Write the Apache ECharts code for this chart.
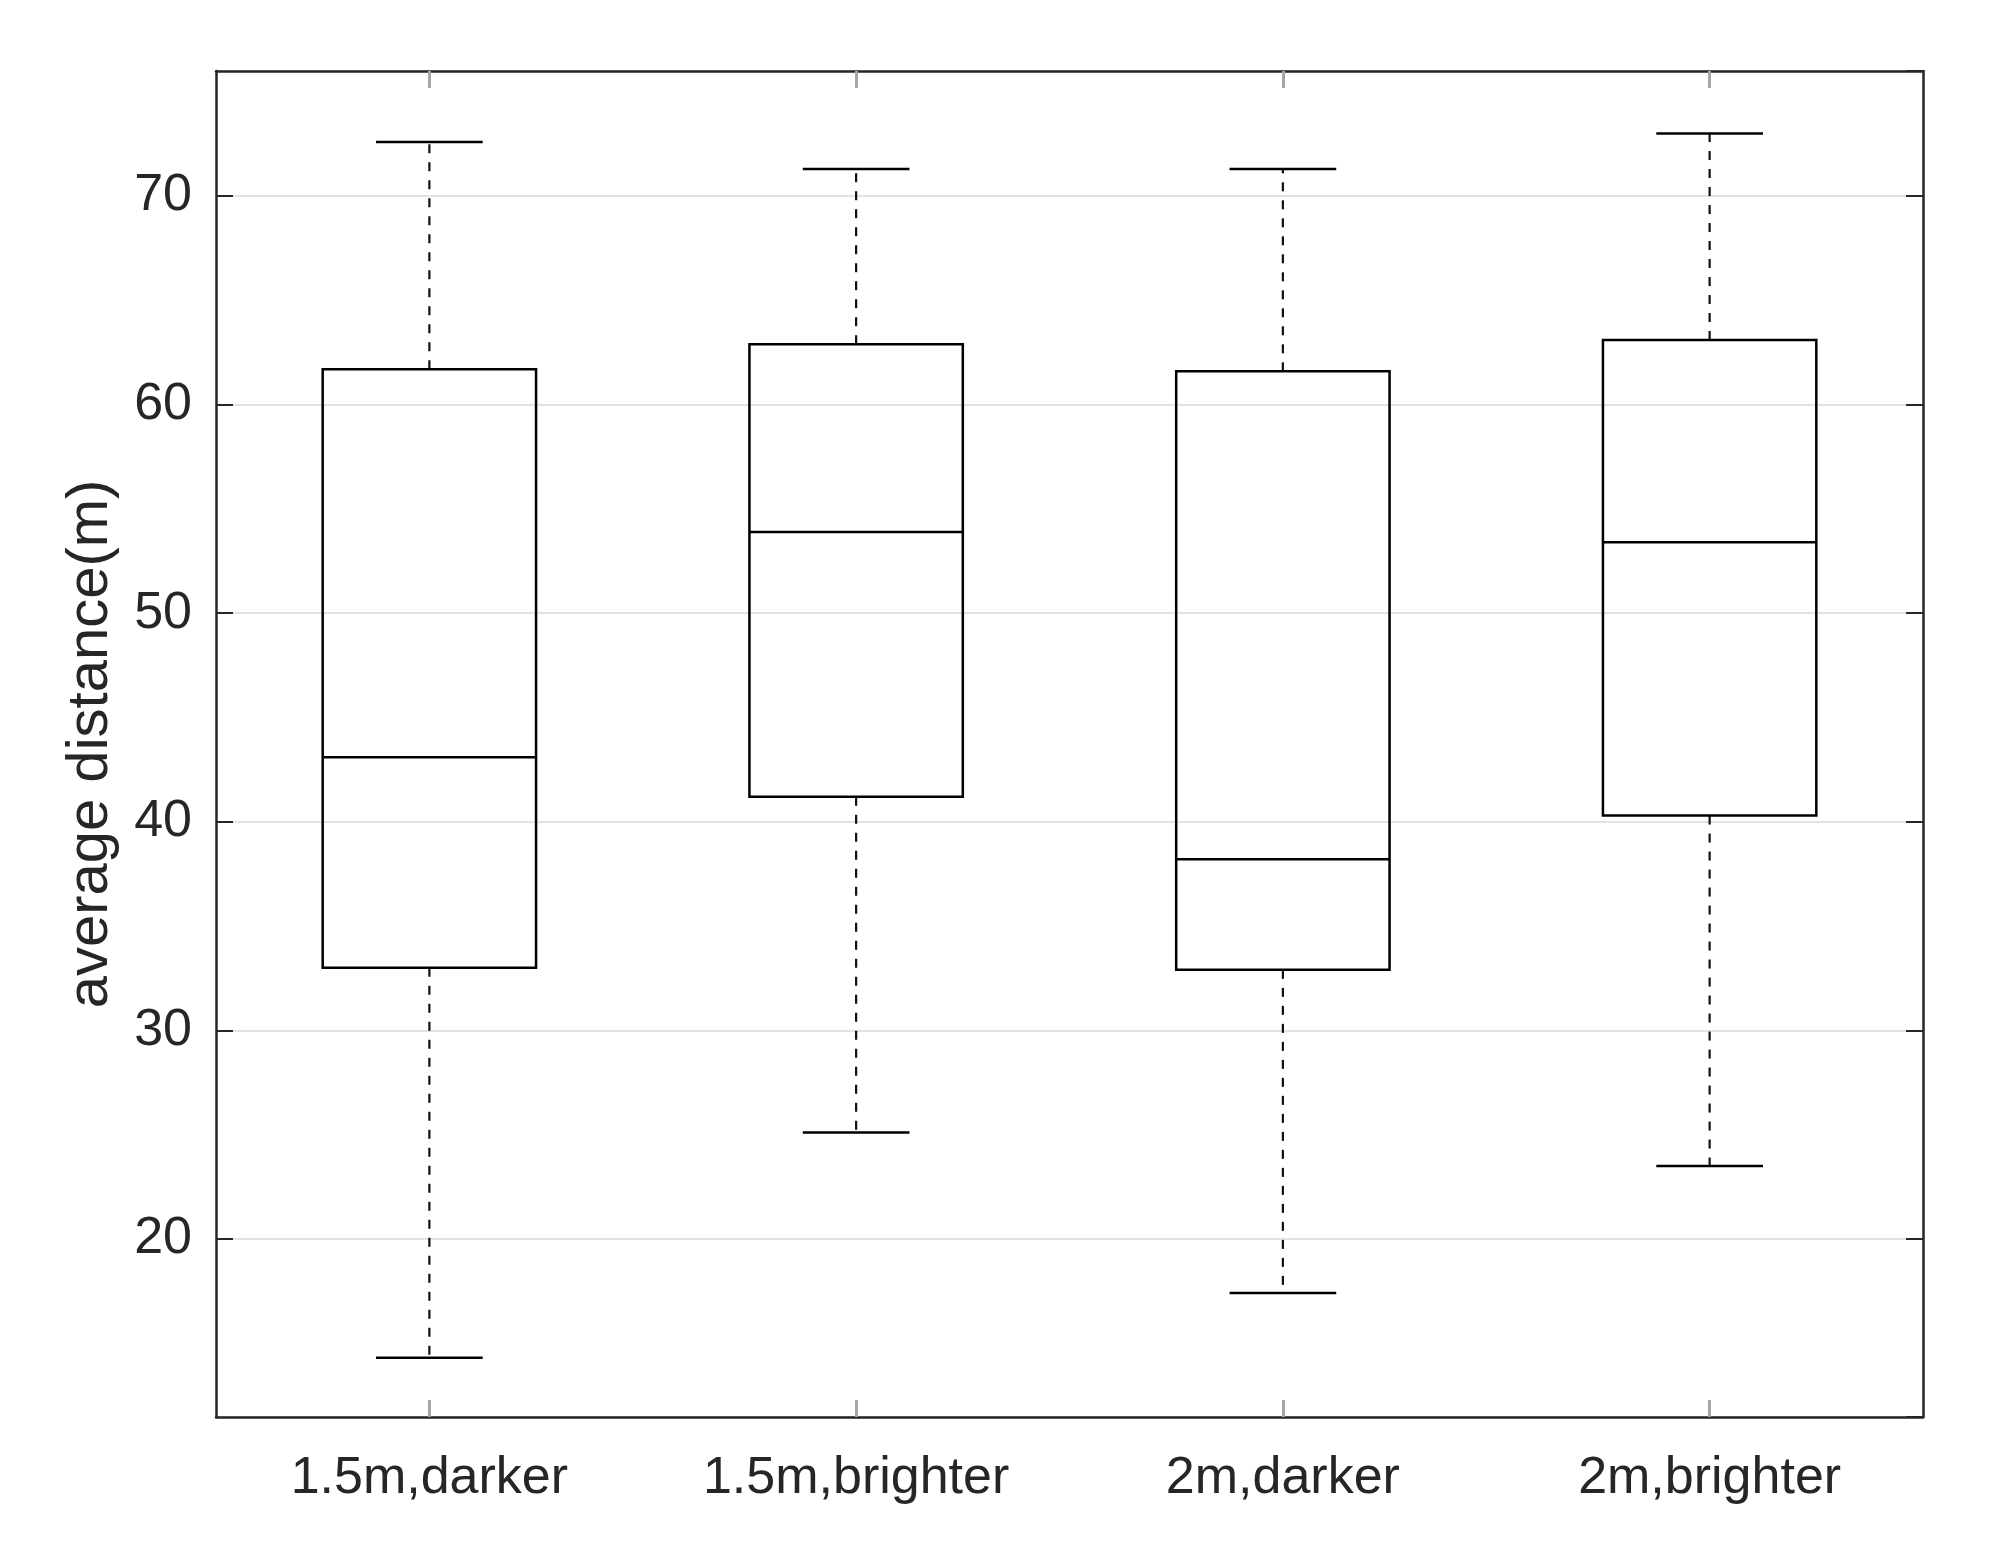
<!DOCTYPE html>
<html>
<head>
<meta charset="utf-8">
<script src="https://cdn.jsdelivr.net/npm/echarts@6/dist/echarts.min.js"></script>
<style>
  html, body { margin: 0; padding: 0; background: #fff; }
  #chart { width: 1989px; height: 1555px; }
</style>
</head>
<body>
<div id="chart"></div>
<script>
const categories = ['1.5m,darker', '1.5m,brighter', '2m,darker', '2m,brighter']
const whiskerLow = [14.3, 25.1, 17.4, 23.5]
const q1 = [33.0, 41.2, 32.9, 40.3]
const median = [43.1, 53.9, 38.2, 53.4]
const q3 = [61.7, 62.9, 61.6, 63.1]
const whiskerHigh = [72.6, 71.3, 71.3, 73.0]

const yMin = 11.46
const yMax = 76

const font = "'Liberation Sans', Arial, sans-serif"
const axisColor = '#262626'

// one row per box: [index, low, q1, median, q3, high]
const boxData = categories.map((c, i) => [i, whiskerLow[i], q1[i], median[i], q3[i], whiskerHigh[i]])

function renderBox (params, api) {
  const i = api.value(0)
  const low = api.coord([i, api.value(1)])
  const p1 = api.coord([i, api.value(2)])
  const med = api.coord([i, api.value(3)])
  const p3 = api.coord([i, api.value(4)])
  const high = api.coord([i, api.value(5)])
  const band = api.size([1, 0])[0]
  const half = band * 0.25
  const cap = band * 0.125
  const x = low[0]
  const solid = { stroke: '#000', lineWidth: 2.5, fill: null }
  const dashed = { stroke: '#111', lineWidth: 2.2, lineDash: [9, 9], fill: null }
  return {
    type: 'group',
    children: [
      { type: 'line', shape: { x1: x, y1: p1[1], x2: x, y2: low[1] }, style: dashed },
      { type: 'line', shape: { x1: x, y1: p3[1], x2: x, y2: high[1] }, style: dashed },
      { type: 'line', shape: { x1: x - cap, y1: low[1], x2: x + cap, y2: low[1] }, style: solid },
      { type: 'line', shape: { x1: x - cap, y1: high[1], x2: x + cap, y2: high[1] }, style: solid },
      { type: 'rect', shape: { x: x - half, y: p3[1], width: half * 2, height: p1[1] - p3[1] }, style: solid },
      { type: 'line', shape: { x1: x - half, y1: med[1], x2: x + half, y2: med[1] }, style: solid }
    ]
  }
}

const chart = echarts.init(document.getElementById('chart'))
chart.setOption({
  backgroundColor: '#fff',
  animation: false,
  grid: { left: 216, right: 66, top: 71, bottom: 138 },
  xAxis: [{
    type: 'category',
    data: categories,
    boundaryGap: true,
    axisLine: { show: true, lineStyle: { color: axisColor, width: 2.5 } },
    axisTick: { show: true, inside: true, alignWithLabel: true, length: 17, lineStyle: { color: '#a6a6a6', width: 3 } },
    axisLabel: { color: axisColor, fontFamily: font, fontSize: 52, margin: 36 },
    splitLine: { show: false }
  }, {
    type: 'category',
    data: categories,
    position: 'top',
    boundaryGap: true,
    axisLine: { show: true, lineStyle: { color: axisColor, width: 2.5 } },
    axisTick: { show: true, inside: true, alignWithLabel: true, length: 17, lineStyle: { color: '#a6a6a6', width: 3 } },
    axisLabel: { show: false },
    splitLine: { show: false }
  }],
  yAxis: [{
    type: 'value',
    min: yMin,
    max: yMax,
    splitNumber: 6,
    name: 'average distance(m)',
    nameLocation: 'middle',
    nameGap: 96,
    nameTextStyle: { color: axisColor, fontFamily: font, fontSize: 58 },
    axisLine: { show: true, lineStyle: { color: axisColor, width: 2.5 } },
    axisTick: { show: true, inside: true, length: 17, lineStyle: { color: axisColor, width: 2 } },
    axisLabel: { color: axisColor, fontFamily: font, fontSize: 52, margin: 24, showMinLabel: false, showMaxLabel: false },
    splitLine: { show: true, lineStyle: { color: '#e3e3e3', width: 2 } }
  }, {
    type: 'value',
    position: 'right',
    min: yMin,
    max: yMax,
    splitNumber: 6,
    axisLine: { show: true, lineStyle: { color: axisColor, width: 2.5 } },
    axisTick: { show: true, inside: true, length: 17, lineStyle: { color: axisColor, width: 2 } },
    axisLabel: { show: false },
    splitLine: { show: false }
  }],
  series: [{
    type: 'custom',
    xAxisIndex: 0,
    yAxisIndex: 0,
    renderItem: renderBox,
    encode: { x: 0, y: [1, 2, 3, 4, 5] },
    data: boxData,
    z: 10
  }]
})
</script>
</body>
</html>
